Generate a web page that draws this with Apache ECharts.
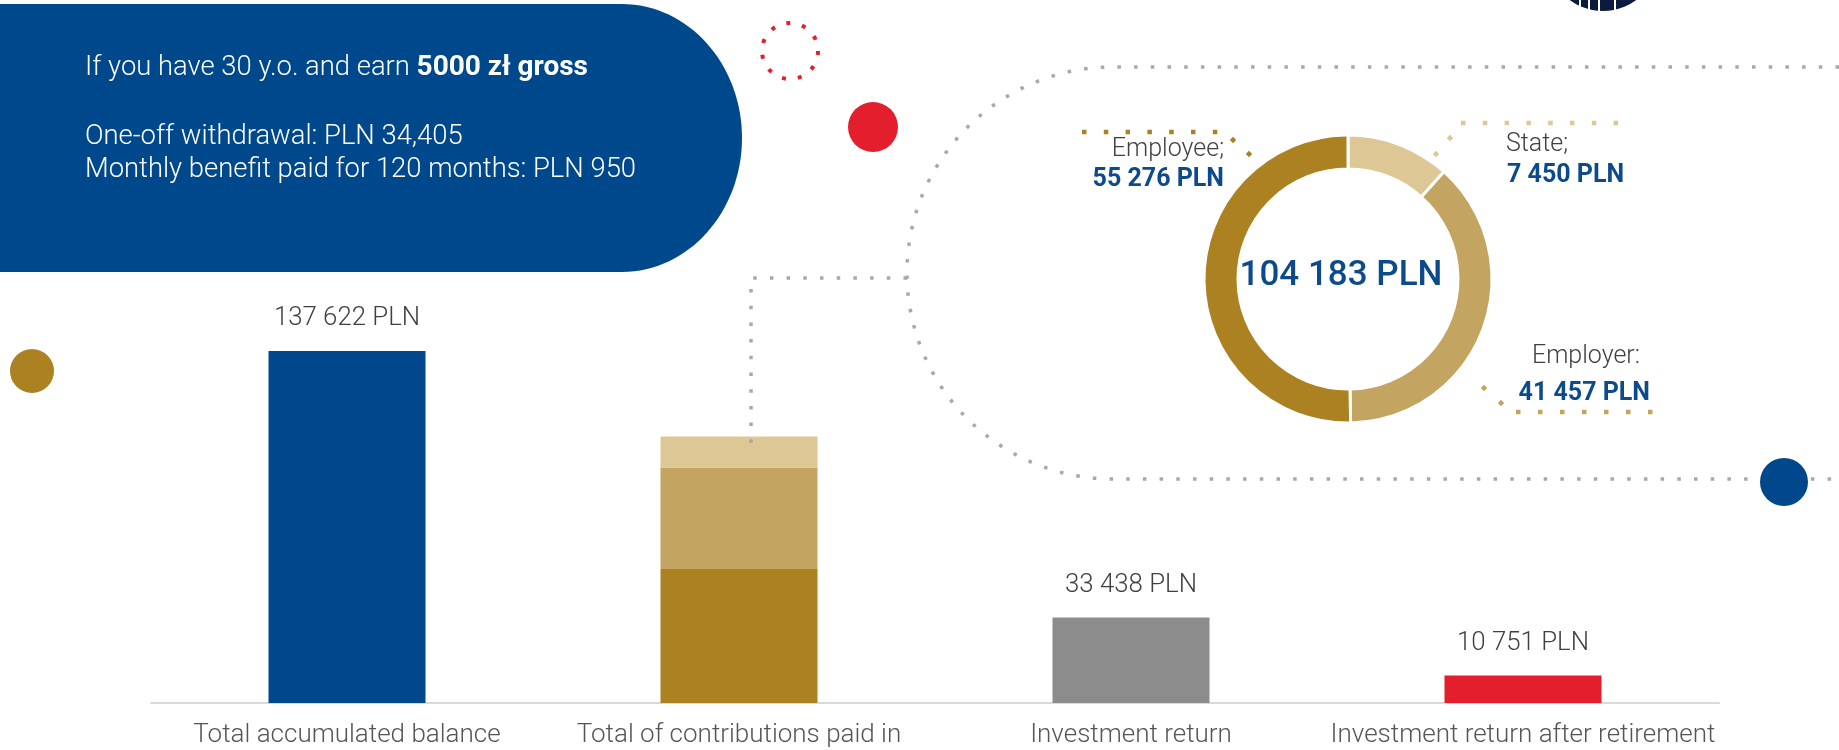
<!DOCTYPE html>
<html>
<head>
<meta charset="utf-8">
<script src="https://cdn.jsdelivr.net/npm/echarts@6/dist/echarts.min.js"></script>
<style>
html,body{margin:0;padding:0;background:#fff;}
#chart{width:1839px;height:750px;}
</style>
</head>
<body>
<div id="chart"></div>
<script>
// ---------- data ----------
const categories = ['Total accumulated balance', 'Total of contributions paid in', 'Investment return', 'Investment return after retirement'];
const totals = [137622, '-', 33438, 10751];
const contribNames = ['Employee;', 'Employer:', 'State;'];
// sizes of the stacked segments / donut slices as drawn in the picture
const contribValues = [52400, 39700, 12100];
// values printed next to the donut
const contribLabelValues = [55276, 41457, 7450];
const contribTotal = 104183;
const headerLine1 = 'If you have 30 y.o. and earn ';
const headerLine1Bold = '5000 zł gross';
const headerLine2 = 'One-off withdrawal: PLN 34,405';
const headerLine3 = 'Monthly benefit paid for 120 months: PLN 950';

// ---------- styles ----------
const BLUE = '#00478b';
const LABEL_BLUE = '#0d4a8b';
const GOLD = ['#ab8121', '#c4a461', '#dcc795'];
const GREY_BAR = '#8c8c8c';
const RED = '#e31e2d';
const DOT_GREY = '#a8a8a8';
const TXT = '#404040';
const FONT = 'Roboto';
const barColors = [BLUE, null, GREY_BAR, RED];

function fmt(v) {
  return String(v).replace(/\B(?=(\d{3})+(?!\d))/g, ' ') + ' PLN';
}

// custom decorative shapes
echarts.graphic.registerShape('headerBlock', echarts.graphic.extendShape({
  shape: {},
  buildPath(ctx) {
    ctx.moveTo(0, 4);
    ctx.lineTo(622, 4);
    ctx.bezierCurveTo(688, 4, 742, 64, 742, 138);
    ctx.bezierCurveTo(742, 212, 688, 272, 622, 272);
    ctx.lineTo(0, 272);
    ctx.closePath();
  }
}));
echarts.graphic.registerShape('greyLoop', echarts.graphic.extendShape({
  shape: {},
  buildPath(ctx) {
    ctx.moveTo(1839, 67);
    ctx.lineTo(1113, 67);
    ctx.arc(1113, 273, 206, -Math.PI / 2, Math.PI / 2, true);
    ctx.lineTo(1839, 479);
  }
}));
echarts.graphic.registerShape('greyBranch', echarts.graphic.extendShape({
  shape: {},
  buildPath(ctx) {
    ctx.moveTo(907, 278);
    ctx.lineTo(751, 278);
    ctx.lineTo(751, 450);
  }
}));

const chart = echarts.init(document.getElementById('chart'), null, {renderer: 'canvas'});

const series = [];
series.push({
  type: 'bar', stack: 'a', barWidth: 157, z: 2,
  data: totals.map((v, i) => v === '-' ? '-' : {value: v, itemStyle: {color: barColors[i]}}),
  label: {
    show: true, position: 'top', distance: 19,
    formatter: p => fmt(p.value),
    color: TXT, fontSize: 25.8, fontFamily: FONT, fontWeight: 300
  }
});
contribValues.forEach((v, k) => {
  series.push({
    type: 'bar', stack: 'a', barWidth: 157, z: 2,
    name: contribNames[k],
    data: categories.map((c, i) => i === 1 ? v : '-'),
    itemStyle: {color: GOLD[k]}
  });
});
// donut: clockwise from top -> State, Employer, Employee
const pieOrder = [2, 1, 0];
series.push({
  type: 'pie', center: [1348, 279], radius: [110, 144], startAngle: 90, clockwise: true,
  label: {show: false}, labelLine: {show: false}, silent: true, z: 3,
  itemStyle: {borderColor: '#fff', borderWidth: 3},
  data: pieOrder.map(k => ({name: contribNames[k], value: contribValues[k], itemStyle: {color: GOLD[k]}}))
});

function dots(x1, y1, x2, y2, color, w, gap) {
  return {type: 'line', z: 50, shape: {x1, y1, x2, y2},
    style: {stroke: color, lineWidth: w, lineDash: [w, gap], lineCap: 'butt'}};
}
function diamond(cx, cy, s, color) {
  return {type: 'polygon', z: 50, shape: {points: [[cx, cy - s], [cx + s, cy], [cx, cy + s], [cx - s, cy]]}, style: {fill: color}};
}
function txt(x, y, text, opts) {
  return {type: 'text', z: 60, style: Object.assign({x, y, text, fontFamily: FONT, fontSize: 25, fontWeight: 300, fill: TXT, align: 'left', verticalAlign: 'middle'}, opts || {})};
}

const HF = 27.4;
const graphics = [
  {type: 'headerBlock', z: 10, shape: {}, style: {fill: '#00488c'}},
  {type: 'text', z: 60, style: {
    x: 85, y: 68, text: '{n|' + headerLine1 + '}{b|' + headerLine1Bold + '}',
    verticalAlign: 'middle', align: 'left',
    rich: {n: {fontFamily: FONT, fontSize: HF, fontWeight: 300, fill: '#fff', color: '#fff'}, b: {fontFamily: FONT, fontSize: 28, fontWeight: 'bold', fill: '#fff', color: '#fff'}}
  }},
  txt(85, 137, headerLine2, {fill: '#fff', fontSize: HF}),
  txt(85, 170, headerLine3, {fill: '#fff', fontSize: HF}),
  {type: 'circle', z: 40, shape: {cx: 790, cy: 51, r: 28}, style: {fill: 'none', stroke: RED, lineWidth: 4, lineDash: [4, 12.0]}},
  {type: 'circle', z: 40, shape: {cx: 873, cy: 127, r: 25}, style: {fill: RED}},
  {type: 'circle', z: 40, shape: {cx: 32, cy: 371, r: 22}, style: {fill: GOLD[0]}},
  {type: 'greyLoop', z: 30, shape: {}, style: {fill: 'none', stroke: DOT_GREY, lineWidth: 3.5, lineDash: [3.5, 13.2]}},
  {type: 'greyBranch', z: 30, shape: {}, style: {fill: 'none', stroke: DOT_GREY, lineWidth: 3.5, lineDash: [3.5, 13.2]}},
  {type: 'circle', z: 40, shape: {cx: 1784, cy: 482, r: 24}, style: {fill: BLUE}},
  {type: 'circle', z: 40, shape: {cx: 1603, cy: -45, r: 56}, style: {fill: '#0b1a3e'}},
  {type: 'line', z: 41, shape: {x1: 1580, y1: 0, x2: 1580, y2: 12}, style: {stroke: '#fff', lineWidth: 2}},
  {type: 'line', z: 41, shape: {x1: 1589, y1: 0, x2: 1589, y2: 12}, style: {stroke: '#fff', lineWidth: 2}},
  {type: 'line', z: 41, shape: {x1: 1599, y1: 0, x2: 1599, y2: 12}, style: {stroke: '#fff', lineWidth: 2}},
  {type: 'line', z: 41, shape: {x1: 1615, y1: 0, x2: 1615, y2: 12}, style: {stroke: '#fff', lineWidth: 2}},
  dots(1082, 132, 1220, 132, GOLD[0], 4.5, 17.3),
  diamond(1233, 140, 3.2, GOLD[0]), diamond(1249, 154, 3.2, GOLD[0]),
  dots(1461, 123, 1620, 123, GOLD[2], 4.5, 17.3),
  diamond(1450, 138, 3.2, GOLD[2]), diamond(1436, 154, 3.2, GOLD[2]),
  dots(1516, 412, 1654, 412, GOLD[1], 4.5, 17.5),
  diamond(1484, 388, 3.2, GOLD[1]), diamond(1501, 403, 3.2, GOLD[1]),
  txt(1224, 150, contribNames[0], {align: 'right'}),
  txt(1224, 180, fmt(contribLabelValues[0]), {align: 'right', fill: LABEL_BLUE, fontWeight: 'bold'}),
  txt(1506, 145, contribNames[2], {align: 'left'}),
  txt(1507, 176, fmt(contribLabelValues[2]), {align: 'left', fill: LABEL_BLUE, fontWeight: 'bold'}),
  txt(1640, 357, contribNames[1], {align: 'right'}),
  txt(1650, 394, fmt(contribLabelValues[1]), {align: 'right', fill: LABEL_BLUE, fontWeight: 'bold'}),
  txt(1341, 276, fmt(contribTotal), {align: 'center', fill: LABEL_BLUE, fontSize: 35, fontWeight: 500})
];

chart.setOption({
  animation: false,
  backgroundColor: '#fff',
  grid: {left: 151, right: 120, bottom: 47, top: 191.4, containLabel: false},
  xAxis: {
    type: 'category', data: categories,
    axisLine: {show: true, lineStyle: {color: '#d9d9d9', width: 2}},
    axisTick: {show: false}, splitLine: {show: false},
    axisLabel: {color: '#555', fontSize: 26, fontFamily: FONT, fontWeight: 300, margin: 19, interval: 0}
  },
  yAxis: {type: 'value', min: 0, max: 200000, show: false, splitLine: {show: false}},
  series: series,
  graphic: {elements: graphics}
});
</script>
</body>
</html>
